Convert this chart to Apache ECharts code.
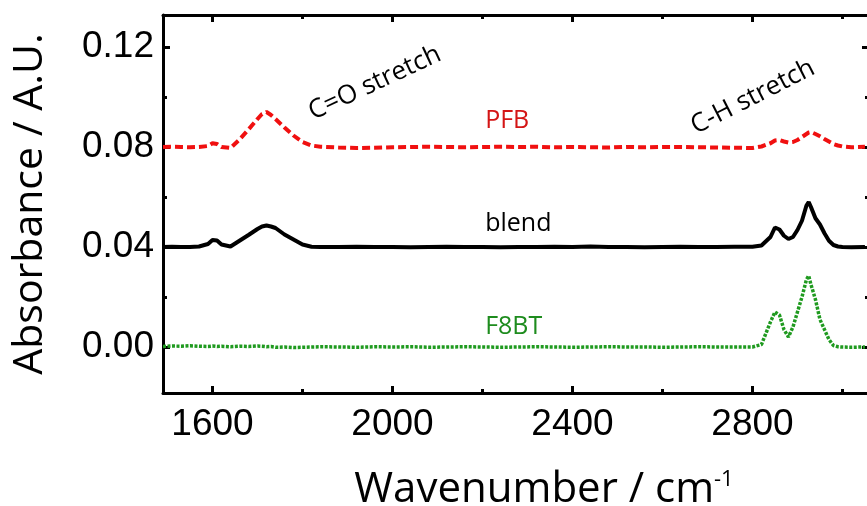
<!DOCTYPE html>
<html lang="en">

<head>
    <meta charset="UTF-8">
    <title>FTIR spectra</title>
    <script src="https://cdn.jsdelivr.net/npm/echarts@6.0.0/dist/echarts.min.js"></script>
    <style>
        html, body { margin: 0; padding: 0; background: #fff; }
    </style>
</head>

<body>
    <div id="myChart" style="width: 867px; height: 506px;"></div>
    <script>
        // wavenumber (cm-1) sample points
        const wavenumber = [
            1490, 1510, 1530, 1550, 1570, 1590, 1600, 1610, 1620, 1640, 1660, 1680, 1700, 1710, 1720, 1730,
            1740, 1760, 1780, 1800, 1820, 1840, 1880, 1920, 1960, 2000, 2040, 2080, 2120, 2160, 2200, 2240,
            2280, 2320, 2360, 2400, 2440, 2480, 2520, 2560, 2600, 2640, 2680, 2720, 2760, 2800, 2820, 2840,
            2850, 2860, 2870, 2880, 2890, 2900, 2910, 2920, 2925, 2930, 2940, 2950, 2960, 2970, 2980, 2990,
            3000, 3020, 3050
        ];
        const pfb = [
            0.0800, 0.0801, 0.0800, 0.0799, 0.0800, 0.0804, 0.0815, 0.0812, 0.0800, 0.0796, 0.0830, 0.0870, 0.0912, 0.0932, 0.0940, 0.0928,
            0.0912, 0.0878, 0.0846, 0.0820, 0.0806, 0.0801, 0.0798, 0.0796, 0.0797, 0.0799, 0.0800, 0.0801, 0.0800, 0.0799, 0.0800, 0.0801,
            0.0800, 0.0801, 0.0799, 0.0800, 0.0799, 0.0798, 0.0800, 0.0799, 0.0800, 0.0800, 0.0799, 0.0798, 0.0797, 0.0796, 0.0802, 0.0815,
            0.0826, 0.0828, 0.0822, 0.0818, 0.0820, 0.0828, 0.0840, 0.0852, 0.0858, 0.0860, 0.0852, 0.0843, 0.0832, 0.0822, 0.0812, 0.0806,
            0.0802, 0.0799, 0.0801
        ];
        const blend = [
            0.0400, 0.0401, 0.0400, 0.0400, 0.0402, 0.0412, 0.0428, 0.0426, 0.0410, 0.0402, 0.0425, 0.0448, 0.0472, 0.0482, 0.0486, 0.0482,
            0.0476, 0.0450, 0.0430, 0.0410, 0.0401, 0.0400, 0.0400, 0.0401, 0.0400, 0.0400, 0.0399, 0.0400, 0.0401, 0.0400, 0.0400, 0.0399,
            0.0400, 0.0400, 0.0401, 0.0400, 0.0402, 0.0400, 0.0400, 0.0399, 0.0400, 0.0401, 0.0400, 0.0400, 0.0401, 0.0401, 0.0406, 0.0440,
            0.0478, 0.0470, 0.0445, 0.0432, 0.0440, 0.0468, 0.0505, 0.0566, 0.0580, 0.0560, 0.0515, 0.0490, 0.0455, 0.0425, 0.0408, 0.0402,
            0.0400, 0.0399, 0.0400
        ];
        const f8bt = [
            0.0002, 0.0004, 0.0003, 0.0005, 0.0003, 0.0002, 0.0004, 0.0002, 0.0003, 0.0001, 0.0003, 0.0002, 0.0004, 0.0003, 0.0001, 0.0002,
            -0.0001, 0.0000, -0.0002, -0.0001, 0.0000, 0.0001, 0.0000, -0.0001, 0.0001, 0.0000, 0.0001, -0.0001, 0.0000, 0.0001, 0.0000, -0.0001,
            0.0000, 0.0001, 0.0000, -0.0001, 0.0000, 0.0001, 0.0000, 0.0000, -0.0001, 0.0000, 0.0001, 0.0000, 0.0000, 0.0000, 0.0010, 0.0100,
            0.0140, 0.0128, 0.0070, 0.0040, 0.0080, 0.0140, 0.0200, 0.0270, 0.0285, 0.0250, 0.0190, 0.0110, 0.0070, 0.0030, 0.0006, 0.0001,
            0.0000, -0.0001, 0.0000
        ];

        // ticks
        const xMajor = [1600, 2000, 2400, 2800];
        const xMinor = [1800, 2200, 2600, 3000];
        const yMajor = [0, 0.04, 0.08, 0.12];
        const yMinor = [0.02, 0.06, 0.10];

        const xMin = 1490, xMax = 3059;
        const yMin = -0.0184, yMax = 0.1328;

        const myChart = echarts.init(document.getElementById('myChart'));

        const zip = (ys) => wavenumber.map((x, i) => [x, ys[i]]);
        const axisLine = { show: true, onZero: false, lineStyle: { color: '#000', width: 3 } };
        const noLine = { show: false, onZero: false };

        function xAx(pos, ticks, len, main) {
            return {
                type: 'value', position: pos, min: xMin, max: xMax,
                axisLine: main ? axisLine : noLine,
                splitLine: { show: false },
                axisTick: { show: true, inside: true, length: len, customValues: ticks, lineStyle: { color: '#000', width: 3 } },
                axisLabel: (main && pos === 'bottom') ? {
                    show: true, customValues: xMajor, fontSize: 37, color: '#000',
                    fontFamily: 'Liberation Sans', margin: 13,
                    formatter: (v) => String(v)
                } : { show: false }
            };
        }
        function yAx(pos, ticks, len, main) {
            return {
                type: 'value', position: pos, min: yMin, max: yMax,
                axisLine: main ? axisLine : noLine,
                splitLine: { show: false },
                axisTick: { show: true, inside: true, length: len, customValues: ticks, lineStyle: { color: '#000', width: 3 } },
                axisLabel: (main && pos === 'left') ? {
                    show: true, customValues: yMajor, fontSize: 37, color: '#000',
                    fontFamily: 'Liberation Sans', margin: 9,
                    formatter: (v) => v.toFixed(2)
                } : { show: false }
            };
        }

        const xAxes = [xAx('bottom', xMajor, 7, true), xAx('bottom', xMinor, 4, false), xAx('top', xMajor, 7, true), xAx('top', xMinor, 4, false)];
        const yAxes = [yAx('left', yMajor, 7, true), yAx('left', yMinor, 4, false), yAx('right', yMajor, 7, true), yAx('right', yMinor, 4, false)];

        xAxes[0].name = 'Wavenumber / cm{sup|-1}';
        xAxes[0].nameLocation = 'middle';
        xAxes[0].nameGap = 76;
        xAxes[0].nameTextStyle = {
            fontSize: 42, color: '#000', fontFamily: 'Open Sans', padding: [0, 0, 0, 56],
            rich: { sup: { fontSize: 22, verticalAlign: 'top', padding: [0, 0, 20, 0], color: '#000', fontFamily: 'Open Sans' } }
        };
        yAxes[0].name = 'Absorbance / A.U.';
        yAxes[0].nameLocation = 'middle';
        yAxes[0].nameGap = 112;
        yAxes[0].nameTextStyle = { fontSize: 41, color: '#000', fontFamily: 'Open Sans' };

        const option = {
            animation: false,
            backgroundColor: '#fff',
            grid: { left: 163, right: -2, top: 15, bottom: 113, containLabel: false, outerBoundsMode: 'none' },
            xAxis: xAxes,
            yAxis: yAxes,
            series: [
                {
                    name: 'PFB', type: 'line', data: zip(pfb), showSymbol: false,
                    lineStyle: { color: '#f01010', width: 4, type: [8, 4] }
                },
                {
                    name: 'blend', type: 'line', data: zip(blend), showSymbol: false,
                    lineStyle: { color: '#000', width: 4 }
                },
                {
                    name: 'F8BT', type: 'line', data: zip(f8bt), showSymbol: false,
                    lineStyle: { color: '#1f9a1f', width: 3.5, type: [3, 1.5] }
                }
            ]
        };
        myChart.setOption(option);

        // annotations placed at data coordinates
        const px = (x, y) => myChart.convertToPixel({ gridIndex: 0 }, [x, y]);
        const note = (text, x, y, color, size, rot, align) => {
            const p = px(x, y);
            return {
                type: 'text', x: p[0], y: p[1], rotation: rot * Math.PI / 180,
                style: {
                    text: text, fill: color, fontSize: size, fontFamily: 'Open Sans',
                    align: align, verticalAlign: 'middle'
                }
            };
        };
        myChart.setOption({
            graphic: [
                note('C=O stretch', 1961, 0.1056, '#000', 26, 25, 'center'),
                note('C-H stretch', 2801, 0.1000, '#000', 26, 27, 'center'),
                note('PFB', 2206, 0.0904, '#d41515', 25, 0, 'left'),
                note('blend', 2206, 0.0492, '#000', 25, 0, 'left'),
                note('F8BT', 2206, 0.0080, '#1e8c1e', 25, 0, 'left')
            ]
        });
    </script>
</body>

</html>
